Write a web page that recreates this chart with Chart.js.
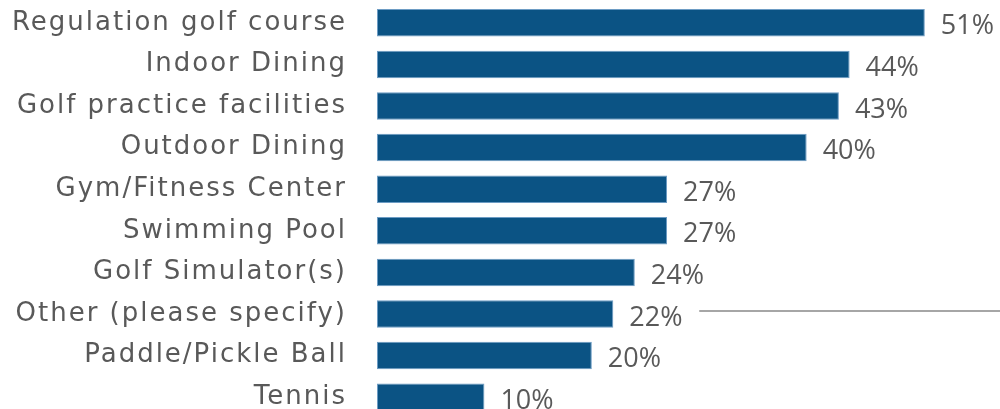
<!DOCTYPE html>
<html>
<head>
<meta charset="utf-8">
<script src="https://cdn.jsdelivr.net/npm/chart.js"></script>
<style>
  html, body { margin: 0; padding: 0; background: #fff; overflow: hidden; }
  #wrap { position: relative; width: 1000px; height: 418px; }
</style>
</head>
<body>
<div id="wrap"><canvas id="amenityChart"></canvas></div>
<script>
/* Amenities share — horizontal bar chart */

const categories = [
  'Regulation golf course',
  'Indoor Dining',
  'Golf practice facilities',
  'Outdoor Dining',
  'Gym/Fitness Center',
  'Swimming Pool',
  'Golf Simulator(s)',
  'Other (please specify)',
  'Paddle/Pickle Ball',
  'Tennis'
];
const shares = [51, 44, 43, 40, 27, 27, 24, 22, 20, 10];

const LABEL_FONT = "'DejaVu Sans', sans-serif";
const VALUE_FONT = "'Open Sans', sans-serif";
const TEXT = '#595959';
const BAR  = '#0b5384';

/* wider tracking for the category names */
const tracking = {
  id: 'tracking',
  beforeDraw(chart) { chart.ctx.letterSpacing = '2px'; },
  afterDatasetsDraw(chart) { chart.ctx.letterSpacing = '0px'; }
};

/* value labels to the right of each bar */
const valueLabels = {
  id: 'valueLabels',
  afterDatasetsDraw(chart) {
    const { ctx } = chart;
    const meta = chart.getDatasetMeta(0);
    ctx.save();
    ctx.letterSpacing = '0px';
    ctx.font = `27px ${VALUE_FONT}`;
    ctx.fillStyle = TEXT;
    ctx.textAlign = 'left';
    ctx.textBaseline = 'middle';
    meta.data.forEach((bar, i) => {
      ctx.fillText(shares[i] + '%', bar.x + 16, bar.y + 4);
    });
    ctx.restore();
  }
};

/* thin grey rule beside the "Other" row */
const otherRule = {
  id: 'otherRule',
  afterDraw(chart) {
    const { ctx, chartArea, scales } = chart;
    const y = scales.y.getPixelForValue(7) - 3;
    ctx.save();
    ctx.strokeStyle = '#a6a6a6';
    ctx.lineWidth = 2;
    ctx.beginPath();
    ctx.moveTo(scales.x.getPixelForValue(30), y);
    ctx.lineTo(chartArea.right, y);
    ctx.stroke();
    ctx.restore();
  }
};

new Chart(document.getElementById('amenityChart'), {
  type: 'bar',
  data: {
    labels: categories,
    datasets: [{
      data: shares,
      backgroundColor: BAR,
      borderColor: '#6d9cc4',
      borderWidth: 1,
      borderSkipped: false,
      categoryPercentage: 1,
      barPercentage: 0.66
    }]
  },
  options: {
    indexAxis: 'y',
    responsive: true,
    maintainAspectRatio: false,
    animation: false,
    layout: { padding: { top: 2, bottom: 0, left: 0, right: 0 } },
    plugins: { legend: { display: false }, tooltip: { enabled: false } },
    scales: {
      x: {
        display: false,
        min: 0,
        max: 58
      },
      y: {
        grid: { display: false },
        border: { display: false },
        afterFit(scale) {
          scale.width = 377;
          scale.paddingTop = 0;
          scale.paddingBottom = 0;
        },
        ticks: {
          color: TEXT,
          padding: 22,
          font: { family: LABEL_FONT, size: 26 }
        }
      }
    }
  },
  plugins: [tracking, valueLabels, otherRule]
});
</script>
</body>
</html>
